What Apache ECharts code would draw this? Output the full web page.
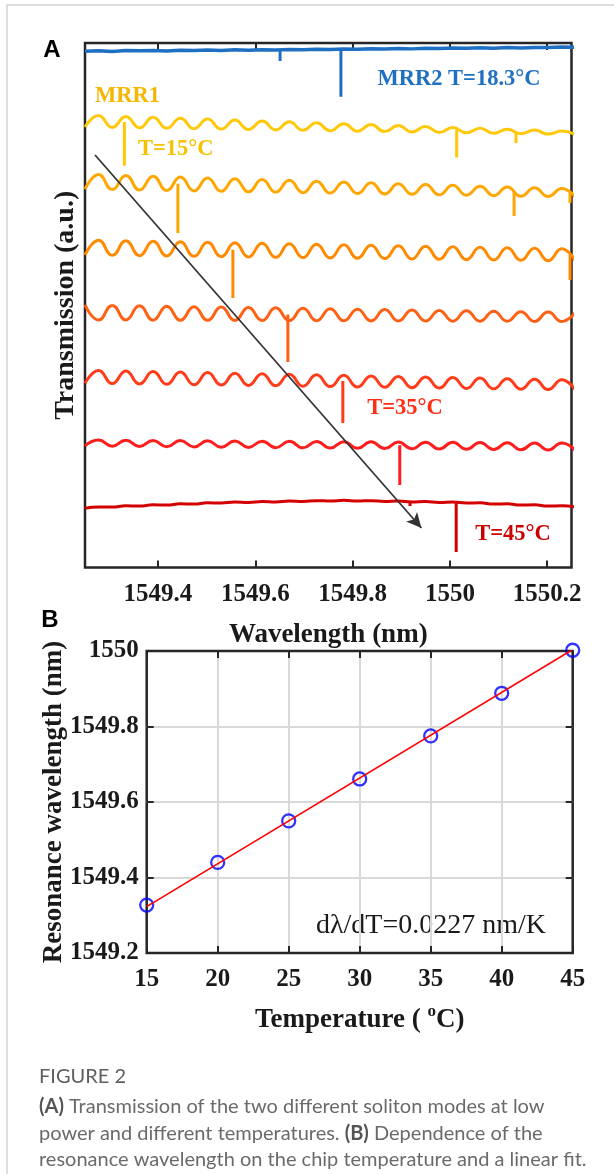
<!DOCTYPE html>
<html>
<head>
<meta charset="utf-8">
<script src="https://cdn.jsdelivr.net/npm/echarts@6/dist/echarts.min.js"></script>
<style>
html, body { margin: 0; padding: 0; background: #fff; }
#fig { width: 614px; height: 1174px; }
</style>
</head>
<body>
<div id="fig"></div>
<script>
// ---- panel A : transmission traces (offset, a.u.) ----
// wavelength of the fringe extrema (nm), shared by all traces
var lam = [1549.250, 1549.278, 1549.306, 1549.334, 1549.362, 1549.390, 1549.418, 1549.446, 1549.474,
  1549.502, 1549.530, 1549.558, 1549.586, 1549.614, 1549.642, 1549.670, 1549.698, 1549.726, 1549.754,
  1549.782, 1549.810, 1549.838, 1549.866, 1549.894, 1549.922, 1549.950, 1549.978, 1550.006, 1550.034,
  1550.062, 1550.090, 1550.118, 1550.146, 1550.174, 1550.202, 1550.230, 1550.258];

var mrr2 = [98.45, 98.52, 98.40, 98.55, 98.50, 98.58, 98.47, 98.62, 98.55, 98.66, 98.58, 98.70, 98.63,
  98.72, 98.66, 98.78, 98.70, 98.80, 98.74, 98.85, 98.79, 98.90, 98.84, 98.95, 98.88, 98.99, 98.93,
  99.03, 98.98, 99.08, 99.02, 99.12, 99.07, 99.16, 99.12, 99.22, 99.20];
var t15 = [83.99, 86.19, 83.91, 86.01, 83.83, 85.83, 83.75, 85.65, 83.67, 85.49, 83.59, 85.31, 83.51,
  85.13, 83.43, 84.97, 83.35, 84.79, 83.27, 84.61, 83.19, 84.44, 83.11, 84.27, 83.03, 84.09, 82.95,
  83.91, 82.87, 83.75, 82.79, 83.57, 82.72, 83.39, 82.63, 83.21, 82.55];
var t20 = [72.13, 74.91, 72.05, 74.75, 71.96, 74.60, 71.88, 74.44, 71.80, 74.28, 71.72, 74.13, 71.63,
  73.97, 71.55, 73.81, 71.47, 73.65, 71.38, 73.50, 71.30, 73.34, 71.22, 73.18, 71.14, 73.03, 71.05,
  72.87, 70.97, 72.71, 70.89, 72.55, 70.80, 72.40, 70.72, 72.24, 70.64];
var t25 = [59.58, 62.39, 59.52, 62.30, 59.45, 62.20, 59.39, 62.10, 59.32, 62.01, 59.26, 61.91, 59.20,
  61.82, 59.13, 61.72, 59.07, 61.62, 59.01, 61.54, 58.95, 61.44, 58.89, 61.35, 58.82, 61.25, 58.76,
  61.15, 58.69, 61.06, 58.63, 60.96, 58.57, 60.87, 58.50, 60.77, 58.44];
var t30 = [50.05, 47.19, 49.97, 47.17, 49.89, 47.15, 49.82, 47.13, 49.73, 47.12, 49.65, 47.10, 49.57,
  47.09, 49.50, 47.07, 49.42, 47.05, 49.34, 47.04, 49.25, 47.02, 49.17, 47.00, 49.10, 46.99, 49.02,
  46.97, 48.94, 46.96, 48.86, 46.94, 48.78, 46.92, 48.70, 46.90, 48.62];
var t35 = [35.14, 37.57, 35.07, 37.47, 34.99, 37.36, 34.93, 37.25, 34.85, 37.16, 34.78, 37.05, 34.71,
  36.95, 34.64, 36.84, 34.57, 36.73, 34.49, 36.64, 34.42, 36.53, 34.35, 36.43, 34.28, 36.32, 34.21,
  36.21, 34.13, 36.12, 34.06, 36.01, 34.00, 35.91, 33.92, 35.80, 33.85];
var t40 = [23.17, 24.29, 23.12, 24.26, 23.08, 24.22, 23.03, 24.19, 22.99, 24.16, 22.94, 24.12, 22.90,
  24.09, 22.85, 24.06, 22.82, 24.03, 22.77, 23.99, 22.72, 23.96, 22.68, 23.92, 22.63, 23.89, 22.59,
  23.86, 22.54, 23.82, 22.50, 23.79, 22.45, 23.75, 22.41, 23.72, 22.36];
var t45 = [11.29, 11.53, 11.53, 11.75, 11.73, 11.95, 11.92, 12.14, 12.11, 12.33, 12.30, 12.47, 12.39,
  12.56, 12.49, 12.66, 12.58, 12.75, 12.68, 12.80, 12.68, 12.75, 12.58, 12.66, 12.49, 12.56, 12.39,
  12.47, 12.30, 12.33, 12.11, 12.14, 11.92, 11.95, 11.73, 11.75, 11.53];

// resonance dips: [wavelength, level at top, level at bottom]
var dipMrr2 = [[1549.651, 98.7, 96.57], [1549.776, 98.8, 89.74]];
var dip15 = [[1549.331, 84.95, 76.6], [1550.014, 83.39, 78.17], [1550.136, 83.12, 80.93]];
var dip20 = [[1549.441, 73.15, 63.78], [1550.132, 71.67, 67.02], [1550.247, 71.40, 69.49]];
var dip25 = [[1549.554, 60.58, 51.38], [1550.247, 59.58, 54.81]];
var dip30 = [[1549.667, 48.26, 39.18]];
var dip35 = [[1549.780, 35.55, 27.55]];
var dip40 = [[1549.897, 23.29, 15.73]];
var dip45 = [[1549.918, 12.50, 11.73], [1550.013, 12.45, 2.96]];

var arrowLam = [1549.2706, 1549.9415];
var arrowT = [78.65, 7.53];

var ticksA = [1549.4, 1549.6, 1549.8, 1550, 1550.2];

// ---- panel B : resonance wavelength vs temperature ----
var tempC = [15, 20, 25, 30, 35, 40, 45];
var resLam = [1549.327, 1549.440, 1549.550, 1549.661, 1549.775, 1549.888, 1550.002];
var fitT = [15, 45];
var fitLam = [1549.323, 1550.004];

var serif = "'Liberation Serif', 'Times New Roman', serif";
var sans = "'Liberation Sans', Arial, sans-serif";

function pairs(xs, ys) {
  return xs.map(function (x, i) { return [x, ys[i]]; });
}

var traces = [
  { d: mrr2, c: '#1f6fc3', w: 3.5, smooth: false, dips: dipMrr2 },
  { d: t15, c: '#ffc90a', w: 3, smooth: true, dips: dip15 },
  { d: t20, c: '#ffa600', w: 3, smooth: true, dips: dip20 },
  { d: t25, c: '#ff8a00', w: 3, smooth: true, dips: dip25 },
  { d: t30, c: '#ff6114', w: 3, smooth: true, dips: dip30 },
  { d: t35, c: '#ff3b1a', w: 3, smooth: true, dips: dip35 },
  { d: t40, c: '#ff1e1e', w: 3, smooth: true, dips: dip40 },
  { d: t45, c: '#d40000', w: 3, smooth: true, dips: dip45 }
];

var series = [];
traces.forEach(function (t) {
  series.push({
    type: 'line', xAxisIndex: 0, yAxisIndex: 0, data: pairs(lam, t.d),
    smooth: t.smooth, symbol: 'none', silent: true,
    lineStyle: { color: t.c, width: t.w }
  });
  t.dips.forEach(function (d) {
    series.push({
      type: 'line', xAxisIndex: 0, yAxisIndex: 0, data: [[d[0], d[1]], [d[0], d[2]]],
      symbol: 'none', silent: true,
      lineStyle: { color: t.c, width: 3 }
    });
  });
});

// arrow across the traces
series.push({
  type: 'line', xAxisIndex: 0, yAxisIndex: 0, data: [], symbol: 'none',
  markLine: {
    silent: true, symbol: ['none', 'arrow'], symbolSize: [11, 15],
    label: { show: false },
    lineStyle: { color: '#333', width: 1.8, type: 'solid' },
    data: [[{ coord: [arrowLam[0], arrowT[0]] }, { coord: [arrowLam[1], arrowT[1]] }]]
  }
});

// panel B
series.push({
  type: 'line', xAxisIndex: 2, yAxisIndex: 1, data: pairs(fitT, fitLam),
  symbol: 'none', silent: true, lineStyle: { color: '#ff0000', width: 1.6 }
});
series.push({
  type: 'scatter', xAxisIndex: 2, yAxisIndex: 1, data: pairs(tempC, resLam),
  symbol: 'circle', symbolSize: 13, clip: false, silent: true,
  itemStyle: { color: 'rgba(0,0,0,0)', borderColor: '#0000ff', borderWidth: 2.3 }
});

var tickLbl = { fontSize: 25, fontWeight: 'bold', fontFamily: serif, color: '#1a1a1a' };
var nameLbl = { fontSize: 27, fontWeight: 'bold', fontFamily: serif, color: '#1a1a1a' };
var inTick = { inside: true, length: 7, lineStyle: { color: '#262626', width: 2 } };
var grayGrid = { show: true, showMinLine: false, showMaxLine: false, lineStyle: { color: '#d9d9d9', width: 2 } };

function fmt(v) { return String(Number(v.toFixed(1))); }

var annot = { fontSize: 22.5, fontWeight: 'bold', fontFamily: serif, verticalAlign: 'middle' };
function note(x, y, text, color, align) {
  return { type: 'text', x: x, y: y, silent: true,
    style: Object.assign({ text: text, fill: color, align: align }, annot) };
}

var capRich = { b: { fontSize: 20, fontFamily: 'Lato', fontWeight: 'bold', fill: '#555' } };
function capLine(y, text) {
  return { type: 'text', x: 39, y: y, silent: true,
    style: { text: text, fontSize: 20, fontFamily: 'Lato', fill: '#6a6a6a', verticalAlign: 'middle', rich: capRich } };
}

var option = {
  animation: false,
  backgroundColor: '#fff',
  grid: [
    { left: 85, top: 43, width: 486.5, height: 524.5, show: true, borderColor: '#262626', borderWidth: 2.5 },
    { left: 146.7, top: 651, width: 426, height: 302, show: true, borderColor: '#262626', borderWidth: 2.5 }
  ],
  xAxis: [
    {
      gridIndex: 0, type: 'value', min: 1549.25, max: 1550.25,
      axisLine: { show: false },
      axisTick: Object.assign({ customValues: ticksA }, inTick),
      axisLabel: Object.assign({ customValues: ticksA, margin: 15, formatter: fmt }, tickLbl),
      splitLine: { show: false },
      name: 'Wavelength (nm)', nameLocation: 'middle', nameGap: 54, nameMoveOverlap: false, nameTextStyle: nameLbl
    },
    {
      gridIndex: 0, type: 'value', position: 'top', min: 1549.25, max: 1550.25,
      axisLine: { show: false },
      axisTick: Object.assign({ customValues: ticksA }, inTick),
      axisLabel: { show: false }, splitLine: { show: false }
    },
    {
      gridIndex: 1, type: 'value', min: 15, max: 45, interval: 5,
      axisLine: { show: false }, axisTick: inTick,
      axisLabel: Object.assign({ margin: 14 }, tickLbl),
      splitLine: grayGrid,
      name: '{m|Temperature ( }{s|o}{m|C)}', nameLocation: 'middle', nameGap: 50, nameMoveOverlap: false,
      nameTextStyle: Object.assign({
        rich: {
          m: { fontSize: 27, fontWeight: 'bold', fontFamily: serif, color: '#1a1a1a', padding: [4, 0, 0, 0], verticalAlign: 'bottom' },
          s: { fontSize: 17, fontWeight: 'bold', fontFamily: serif, color: '#1a1a1a', verticalAlign: 'top' }
        }
      }, nameLbl)
    },
    {
      gridIndex: 1, type: 'value', position: 'top', min: 15, max: 45, interval: 5,
      axisLine: { show: false }, axisTick: inTick,
      axisLabel: { show: false }, splitLine: { show: false }
    }
  ],
  yAxis: [
    {
      gridIndex: 0, type: 'value', min: 0, max: 100,
      axisLine: { show: false }, axisTick: { show: false }, axisLabel: { show: false }, splitLine: { show: false },
      name: 'Transmission (a.u.)', nameLocation: 'middle', nameGap: 5, nameMoveOverlap: false,
      nameTextStyle: Object.assign({}, nameLbl, { fontSize: 28 })
    },
    {
      gridIndex: 1, type: 'value', min: 1549.2, max: 1550, interval: 0.2,
      axisLine: { show: false }, axisTick: inTick,
      axisLabel: Object.assign({ margin: 8, formatter: fmt }, tickLbl),
      splitLine: grayGrid,
      name: 'Resonance wavelength (nm)', nameLocation: 'middle', nameGap: 79, nameMoveOverlap: false,
      nameTextStyle: nameLbl
    },
    {
      gridIndex: 1, type: 'value', position: 'right', min: 1549.2, max: 1550, interval: 0.2,
      axisLine: { show: false }, axisTick: inTick,
      axisLabel: { show: false }, splitLine: { show: false }
    }
  ],
  graphic: [
    { type: 'rect', silent: true, shape: { x: 7, y: 5, width: 640, height: 1200 },
      style: { fill: 'none', stroke: '#d2d2d2', lineWidth: 1.5 } },
    { type: 'text', x: 52, y: 50, style: { text: 'A', fontSize: 24, fontWeight: 'bold', fontFamily: sans, fill: '#000', align: 'center', verticalAlign: 'middle' } },
    { type: 'text', x: 50, y: 620, style: { text: 'B', fontSize: 24, fontWeight: 'bold', fontFamily: sans, fill: '#000', align: 'center', verticalAlign: 'middle' } },
    note(459, 79, 'MRR2 T=18.3°C', '#2070c2', 'center'),
    note(95, 96, 'MRR1', '#f7b600', 'left'),
    note(138, 149, 'T=15°C', '#f6c200', 'left'),
    note(405, 408, 'T=35°C', '#ff2d12', 'center'),
    note(513, 534, 'T=45°C', '#cc0000', 'center'),
    { type: 'text', x: 431, y: 926, silent: true, style: { text: 'd\u03bb/dT=0.0227 nm/K', fontSize: 28, fontFamily: serif, fill: '#1a1a1a', align: 'center', verticalAlign: 'middle' } },
    { type: 'text', x: 39, y: 1077, silent: true, style: { text: 'FIGURE 2', fontSize: 20, fontFamily: 'Lato', fill: '#5e5e5e', verticalAlign: 'middle' } },
    capLine(1107, '{b|(A)} Transmission of the two different soliton modes at low'),
    capLine(1134, 'power and different temperatures. {b|(B)} Dependence of the'),
    capLine(1160, 'resonance wavelength on the chip temperature and a linear fit.')
  ],
  series: series
};

var chart = echarts.init(document.getElementById('fig'));
chart.setOption(option);
window.addEventListener('resize', function () { chart.resize(); });
</script>
</body>
</html>
